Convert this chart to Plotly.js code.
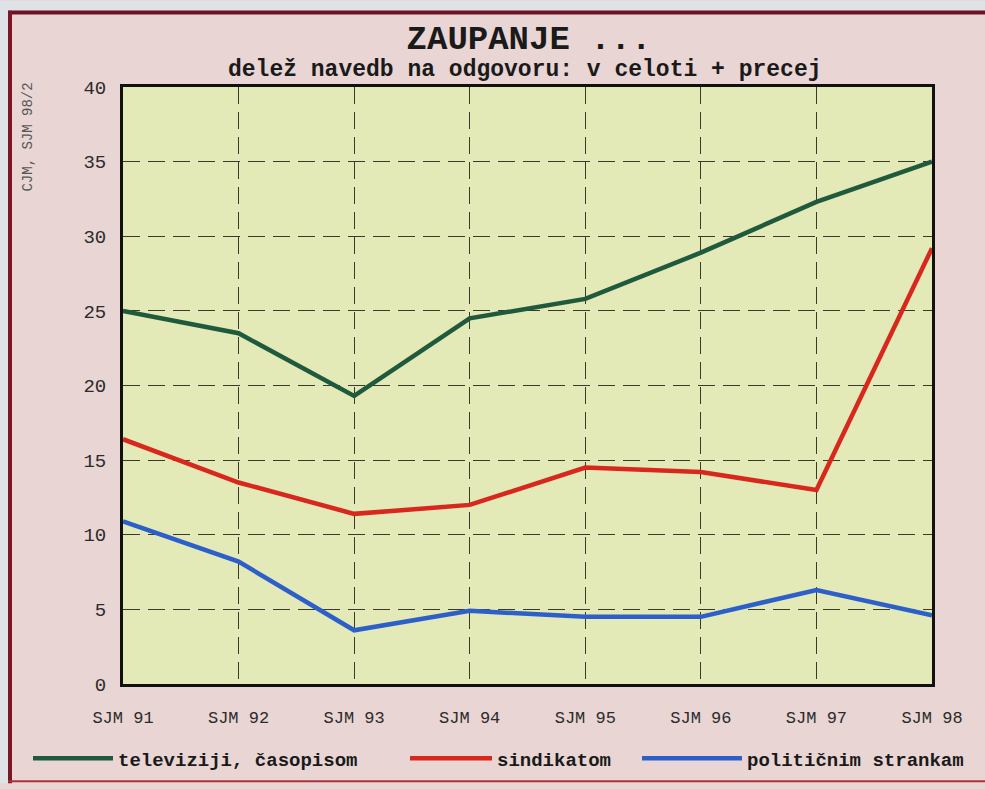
<!DOCTYPE html>
<html>
<head>
<meta charset="utf-8">
<script src="https://cdn.plot.ly/plotly-3.0.1.min.js"></script>
<style>
  html, body { margin: 0; padding: 0; background: #dfe2e6; }
  #chart { width: 985px; height: 789px; }
</style>
</head>
<body>
<div id="chart"></div>
<script>
// ---- data ----
const categories = ['SJM 91', 'SJM 92', 'SJM 93', 'SJM 94', 'SJM 95', 'SJM 96', 'SJM 97', 'SJM 98'];
const televiziji = [25.0, 23.5, 19.3, 24.5, 25.8, 28.9, 32.3, 35.0];
const sindikatom = [16.4, 13.5, 11.4, 12.0, 14.5, 14.2, 13.0, 29.2];
const strankam   = [10.9, 8.2, 3.6, 4.9, 4.5, 4.5, 6.3, 4.6];
const seriesNames = ['televiziji, časopisom', 'sindikatom', 'političnim strankam'];
const yTickVals = [0, 5, 10, 15, 20, 25, 30, 35, 40];
const titleText = 'ZAUPANJE ...';
const subtitleText = 'delež navedb na odgovoru: v celoti + precej';
const sourceText = 'CJM, SJM 98/2';

// ---- geometry helpers (pixel -> paper) ----
const W = 985, H = 789;
const L = 123, R = 932, T = 87, B = 689;
const px = x => (x - L) / (R - L);
const py = y => (B - y) / (B - T);

const mono = 'Liberation Mono, DejaVu Sans Mono, monospace';
const green = '#1f5a3d', red = '#d8281d', blue = '#2d5fcb';

const traces = [
  {x: categories, y: televiziji, name: seriesNames[0], type: 'scatter', mode: 'lines',
   line: {color: green, width: 4.5}, legend: 'legend'},
  {x: categories, y: sindikatom, name: seriesNames[1], type: 'scatter', mode: 'lines',
   line: {color: red, width: 4.5}, legend: 'legend2'},
  {x: categories, y: strankam, name: seriesNames[2], type: 'scatter', mode: 'lines',
   line: {color: blue, width: 4.5}, legend: 'legend3'}
];

const legendBase = {
  orientation: 'h', xref: 'paper', yref: 'paper', xanchor: 'left', yanchor: 'middle',
  bgcolor: 'rgba(0,0,0,0)', borderwidth: 0, itemwidth: 80,
  font: {family: mono, size: 19, color: '#1a1a1a', weight: 'bold'}
};

const layout = {
  width: W, height: H,
  margin: {l: L, r: W - R, t: T, b: H - B},
  paper_bgcolor: '#e9d5d3',
  plot_bgcolor: '#e3e9b7',
  showlegend: true,
  legend:  Object.assign({}, legendBase, {x: px(28), y: py(764)}),
  legend2: Object.assign({}, legendBase, {x: px(405), y: py(764), itemwidth: 82}),
  legend3: Object.assign({}, legendBase, {x: px(637), y: py(764), itemwidth: 100}),
  title: {
    text: '<b>' + titleText + '</b>',
    font: {family: mono, size: 34, color: '#1a1a1a'},
    x: px(529), xref: 'paper', xanchor: 'center',
    y: 1 - 37 / H, yref: 'container', yanchor: 'middle'
  },
  xaxis: {
    type: 'category', range: [0, 7],
    showgrid: true, gridcolor: '#3a3a2a', gridwidth: 1, griddash: '17px,8px',
    showline: true, linecolor: '#111', linewidth: 3, mirror: true,
    ticks: '', ticklabelstandoff: 16,
    tickfont: {family: mono, size: 17, color: '#2b2b2b'},
    zeroline: false, fixedrange: true
  },
  yaxis: {
    range: [0, 40], tickvals: yTickVals,
    showgrid: true, gridcolor: '#3a3a2a', gridwidth: 1, griddash: '17px,8px',
    showline: true, linecolor: '#111', linewidth: 3, mirror: true,
    ticks: '', ticklabelstandoff: 10,
    tickfont: {family: mono, size: 19, color: '#2b2b2b'},
    zeroline: false, fixedrange: true
  },
  annotations: [
    {text: '<b>' + subtitleText + '</b>', xref: 'paper', yref: 'paper',
     x: px(525), y: py(70), xanchor: 'center', yanchor: 'middle', showarrow: false,
     font: {family: mono, size: 23, color: '#1a1a1a'}},
    {text: sourceText, xref: 'paper', yref: 'paper', textangle: -90,
     x: px(28), y: py(138), xanchor: 'center', yanchor: 'middle', showarrow: false,
     font: {family: mono, size: 14, color: '#555'}}
  ],
  shapes: [
    // outer page strips (top and left)
    {type: 'rect', xref: 'paper', yref: 'paper', x0: px(0), x1: px(W), y0: py(0), y1: py(10),
     fillcolor: '#dfe2e6', line: {width: 0}, layer: 'above'},
    {type: 'rect', xref: 'paper', yref: 'paper', x0: px(0), x1: px(8), y0: py(0), y1: py(H),
     fillcolor: '#dfe2e6', line: {width: 0}, layer: 'above'},
    // dark red frame lines
    {type: 'line', xref: 'paper', yref: 'paper', x0: px(8), x1: px(W), y0: py(12), y1: py(12),
     line: {color: '#6e1322', width: 4}, layer: 'above'},
    {type: 'line', xref: 'paper', yref: 'paper', x0: px(10), x1: px(10), y0: py(10), y1: py(H),
     line: {color: '#7a1626', width: 4}, layer: 'above'},
    {type: 'line', xref: 'paper', yref: 'paper', x0: px(8), x1: px(W), y0: py(787), y1: py(787),
     line: {color: '#b0303a', width: 2}, layer: 'above'}
  ]
};

Plotly.newPlot('chart', traces, layout, {displayModeBar: false, staticPlot: true});
</script>
</body>
</html>
